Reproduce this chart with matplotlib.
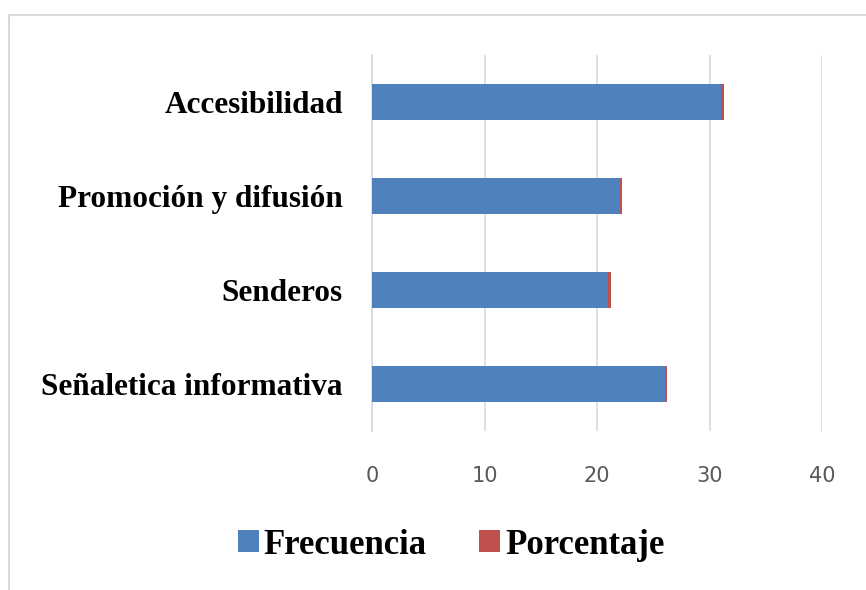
import numpy as np
import matplotlib.pyplot as plt
from matplotlib.patches import Rectangle

categorias = ['Señaletica informativa', 'Senderos', 'Promoción y difusión', 'Accesibilidad']
frecuencia = [26, 21, 22, 31]
porcentaje = [0.26, 0.21, 0.22, 0.31]
xticks_vals = [0, 10, 20, 30, 40]

color_frec = '#4f81bd'
color_porc = '#c0504d'
gris = '#d9d9d9'

fig = plt.figure(figsize=(8.66, 5.9), dpi=100)

# marco gris exterior (recortado a la derecha y abajo)
fig.patches.append(Rectangle((9 / 866, -0.1), 1.2, (590 - 15) / 590 + 0.1,
                             transform=fig.transFigure, fill=False,
                             edgecolor=gris, linewidth=1.5))

ax = fig.add_axes([372 / 866, 159 / 590, 450 / 866, 376 / 590])
y = np.arange(len(categorias))
ax.barh(y, frecuencia, height=0.38, color=color_frec, label='Frecuencia', zorder=3)
ax.barh(y, porcentaje, left=frecuencia, height=0.38, color=color_porc, label='Porcentaje', zorder=3)

ax.set_xlim(0, 40)
ax.set_ylim(-0.5, len(categorias) - 0.5)
ax.set_xticks(xticks_vals)
ax.set_yticks(y)
ax.set_yticklabels(categorias, family='Liberation Serif', fontweight='bold', fontsize=22.5)
ax.tick_params(axis='y', length=0, pad=21)
ax.tick_params(axis='x', length=0, pad=25, labelsize=15, labelcolor='#595959')
for lab in ax.get_xticklabels():
    lab.set_family('DejaVu Sans')

ax.grid(axis='x', color=gris, linewidth=1.2, zorder=0)
for s in ['top', 'right', 'bottom']:
    ax.spines[s].set_visible(False)
ax.spines['left'].set_color(gris)
ax.spines['left'].set_linewidth(1.2)

fig.legend(loc='center', bbox_to_anchor=(451 / 866, (590 - 545) / 590), ncol=2, frameon=False,
           prop={'family': 'Liberation Serif', 'weight': 'bold', 'size': 25},
           handlelength=0.6, handleheight=0.6, handletextpad=0.15, columnspacing=1.5)

fig.savefig('out.png', dpi=100)
